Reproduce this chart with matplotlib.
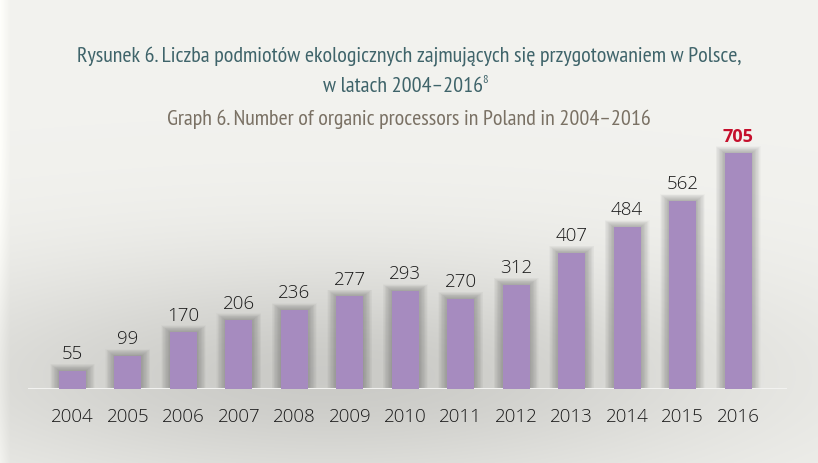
import numpy as np
import matplotlib
matplotlib.use("Agg")
import matplotlib.pyplot as plt
from matplotlib import transforms as mtrans

years = ["2004", "2005", "2006", "2007", "2008", "2009", "2010",
         "2011", "2012", "2013", "2014", "2015", "2016"]
values = [55, 99, 170, 206, 236, 277, 293, 270, 312, 407, 484, 562, 705]

title_pl_1 = "Rysunek 6. Liczba podmiotów ekologicznych zajmujących się przygotowaniem w Polsce,"
title_pl_2 = "w latach 2004–2016"
title_en = "Graph 6. Number of organic processors in Poland in 2004–2016"

W, H = 818, 463
fig = plt.figure(figsize=(W / 100, H / 100), dpi=100)

# ---- background gradient ----
bg = fig.add_axes([0, 0, 1, 1])
yy, xx = np.mgrid[0:H, 0:W].astype(float)
light = np.array([0.95, 0.95, 0.935])
gray = np.array([0.795, 0.795, 0.78])
g = np.exp(-(((xx - 330) / 430.0) ** 2) - (((yy - 375) / 115.0) ** 2))
t = np.clip(g * 1.0, 0, 1)[..., None]
img = light * (1 - t) + gray * t
strip = np.clip(1 - xx / 10.0, 0, 1)[..., None] * 0.05
img = np.clip(img + strip, 0, 1)
bg.imshow(img, extent=[0, W, H, 0], aspect="auto", interpolation="bilinear")
bg.set_xlim(0, W)
bg.set_ylim(H, 0)
bg.axis("off")

# ---- titles ----
tfam = ["PT Sans Narrow", "DejaVu Sans"]
t1 = bg.text(409.5, 62.5, title_pl_1, fontsize=16, color="#3f646a", family=tfam,
             ha="center", va="baseline")
fig.canvas.draw()
r = fig.canvas.get_renderer()
w1 = t1.get_window_extent(r).width
fs = 16 * 665.0 / w1
t1.set_fontsize(fs)
t2 = bg.text(403, 91.5, title_pl_2, fontsize=fs, color="#3f646a", family=tfam,
             ha="center", va="baseline")
fig.canvas.draw()
e2 = t2.get_window_extent(r)
bg.text(e2.x1 - 0.5, 83, "8", fontsize=fs * 0.55, color="#3f646a", family=tfam,
        ha="left", va="baseline")
bg.text(409, 125, title_en, fontsize=fs, color="#7a7164", family=tfam,
        ha="center", va="baseline")

# ---- main axes ----
base_px = 389
top_px = 100
left_px, right_px = 28, 787
ax = fig.add_axes([left_px / W, (H - base_px) / H, (right_px - left_px) / W,
                   (base_px - top_px) / H])
ax.patch.set_alpha(0)
x = np.arange(len(years))
spacing = (738 - 72.5) / 12
ax.set_xlim((left_px - 72.5) / spacing, (right_px - 72.5) / spacing)
scale = (389 - 153) / 705.0
ax.set_ylim(0, (base_px - top_px) / scale)

bw = 27 / spacing
vals = np.array(values, dtype=float)
# soft shadow halo behind bars
for k in range(1, 16):
    ax.bar(x, vals + k * 0.45 / scale, width=bw + 2 * k * 0.6 / spacing,
           color="#3a3a3a", alpha=0.022, zorder=1, linewidth=0)
ax.bar(x, vals, width=bw, color="#a68bbf", zorder=3, linewidth=0)

ax.axhline(0, color="#f2f2f0", lw=2.2, zorder=2)
for s in ax.spines.values():
    s.set_visible(False)
ax.set_yticks([])
ax.set_xticks([])

nfam = ["Open Sans", "DejaVu Sans"]
xt = ax.get_xaxis_transform()
off = mtrans.offset_copy(xt, fig=fig, x=0, y=-33, units="dots")
for i, yl in enumerate(years):
    ax.text(i, 0, yl, transform=off, ha="center", va="baseline", fontsize=13.5,
            color="#1a1a1a", fontweight="light", family=nfam)

for i, v in enumerate(values):
    if i == len(values) - 1:
        ax.text(i, v + 11.5 / scale, str(v), ha="center", va="baseline", fontsize=13,
                color="#c50f2c", fontweight="bold", family=nfam)
    else:
        ax.text(i, v + 11.5 / scale, str(v), ha="center", va="baseline", fontsize=13.5,
                color="#1a1a1a", fontweight="light", family=nfam)

fig.savefig("out.png", dpi=100)
